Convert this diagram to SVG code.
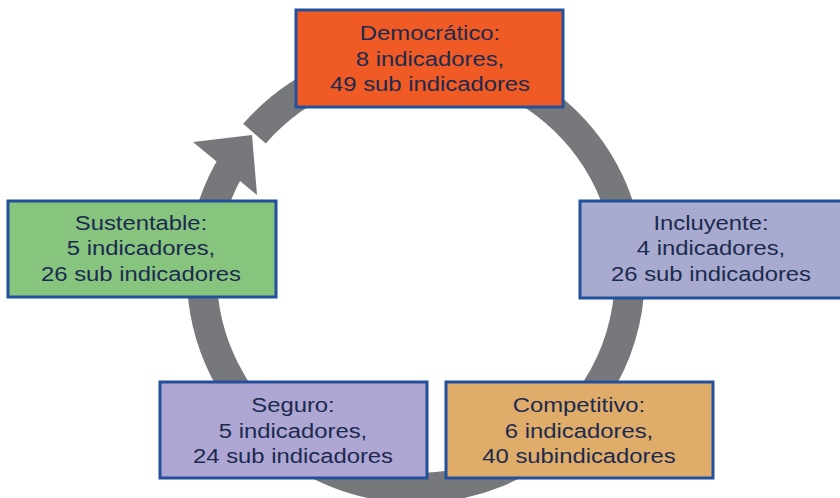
<svg xmlns="http://www.w3.org/2000/svg" width="840" height="498" viewBox="0 0 840 498">
<style>
.box{stroke:#22509c;stroke-width:3}
.lbl{font-family:"Liberation Sans",Arial,Helvetica,sans-serif;font-size:21px;fill:#1b2a4e;text-anchor:middle}
.ring{fill:none;stroke:#77787b;stroke-width:30}
</style>
<rect width="840" height="498" fill="#ffffff"/>
<g id="connectors">
<path class="ring" d="M254.5 133.6 A214 214 0 1 1 234.5 160.6"/>
<polygon points="193,142 252,135 257,195" fill="#77787b"/>
</g>
<g id="democratico">
<rect class="box" x="296" y="10" width="267" height="97" fill="#f05a24"/>
<g transform="translate(430 0) scale(1.135 1)">
<text class="lbl" x="0" y="40.5">Democrático:</text>
<text class="lbl" x="0" y="66">8 indicadores,</text>
<text class="lbl" x="0" y="91.5">49 sub indicadores</text>
</g>
</g>
<g id="sustentable">
<rect class="box" x="8" y="201" width="268" height="96" fill="#87c47e"/>
<g transform="translate(141 0) scale(1.135 1)">
<text class="lbl" x="0" y="230">Sustentable:</text>
<text class="lbl" x="0" y="255.5">5 indicadores,</text>
<text class="lbl" x="0" y="281">26 sub indicadores</text>
</g>
</g>
<g id="incluyente">
<rect class="box" x="580" y="201" width="262" height="97" fill="#a8aacf"/>
<g transform="translate(711 0) scale(1.135 1)">
<text class="lbl" x="0" y="230">Incluyente:</text>
<text class="lbl" x="0" y="255.5">4 indicadores,</text>
<text class="lbl" x="0" y="281">26 sub indicadores</text>
</g>
</g>
<g id="seguro">
<rect class="box" x="160" y="382" width="267" height="96" fill="#aea6d3"/>
<g transform="translate(293 0) scale(1.135 1)">
<text class="lbl" x="0" y="412.5">Seguro:</text>
<text class="lbl" x="0" y="438">5 indicadores,</text>
<text class="lbl" x="0" y="463">24 sub indicadores</text>
</g>
</g>
<g id="competitivo">
<rect class="box" x="446" y="382" width="267" height="96" fill="#dfac6a"/>
<g transform="translate(579 0) scale(1.135 1)">
<text class="lbl" x="0" y="412.5">Competitivo:</text>
<text class="lbl" x="0" y="438">6 indicadores,</text>
<text class="lbl" x="0" y="463">40 subindicadores</text>
</g>
</g>
</svg>
